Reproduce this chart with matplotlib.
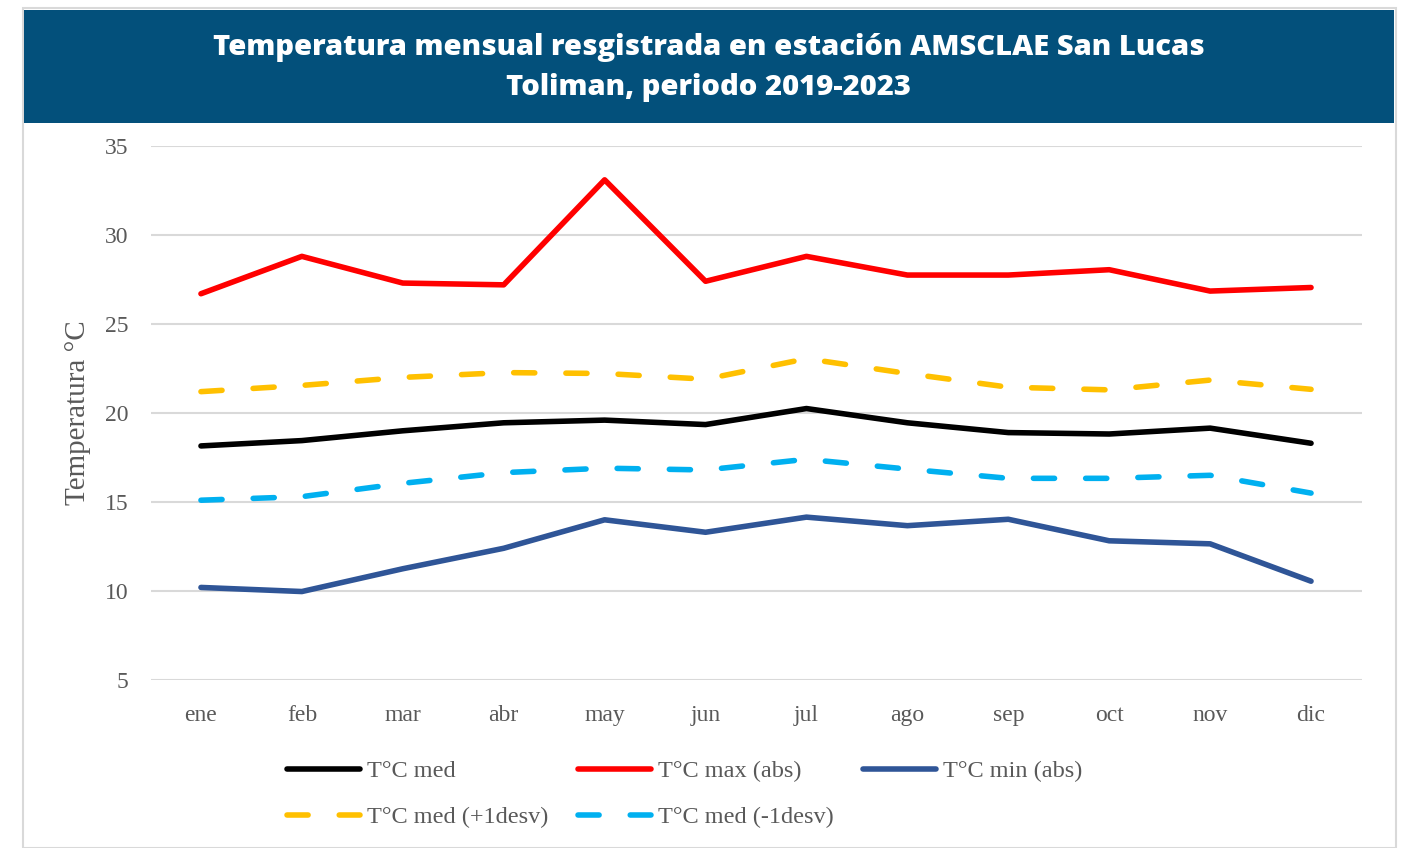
import matplotlib
matplotlib.use("Agg")
import matplotlib.pyplot as plt
from matplotlib.patches import Rectangle

# Data
meses = ["ene", "feb", "mar", "abr", "may", "jun", "jul", "ago", "sep", "oct", "nov", "dic"]
t_med = [18.15, 18.45, 19.0, 19.45, 19.6, 19.35, 20.25, 19.45, 18.9, 18.82, 19.15, 18.3]
t_max = [26.7, 28.8, 27.3, 27.2, 33.1, 27.4, 28.8, 27.75, 27.75, 28.05, 26.85, 27.05]
t_min = [10.2, 9.97, 11.25, 12.4, 14.0, 13.3, 14.15, 13.67, 14.03, 12.82, 12.65, 10.55]
t_mas1 = [21.2, 21.55, 22.0, 22.27, 22.22, 21.9, 23.05, 22.22, 21.45, 21.3, 21.85, 21.33]
t_menos1 = [15.1, 15.3, 16.05, 16.65, 16.9, 16.8, 17.4, 16.85, 16.33, 16.33, 16.5, 15.5]

W, H = 1405, 848
serif = ["Liberation Serif", "DejaVu Serif"]
gris = "#595959"

fig = plt.figure(figsize=(W / 100, H / 100), dpi=100)

# outer frame and title banner
fig.add_artist(Rectangle((23 / W, 0), (1396 - 23) / W, 1 - 8 / H, transform=fig.transFigure,
                         fill=False, edgecolor="#D9D9D9", linewidth=1.5))
fig.add_artist(Rectangle((24 / W, 1 - 123 / H), (1394 - 24) / W, (123 - 10) / H,
                         transform=fig.transFigure, facecolor="#03507B", edgecolor="none"))
titulo = ["Temperatura mensual resgistrada en estación AMSCLAE San Lucas",
          "Toliman, periodo 2019-2023"]
for i, linea in enumerate(titulo):
    fig.text(709 / W, 1 - (48 + 40 * i) / H, linea, ha="center", va="center",
             color="white", fontsize=21, fontweight=800, family="Open Sans")

ax = fig.add_axes([150.5 / W, 1 - 680 / H, 1211 / W, 534 / H])
x = range(len(meses))
lw = 4
dash = (3.8, 5.6)

l_med, = ax.plot(x, t_med, color="black", lw=lw, solid_capstyle="round", label="T°C med")
l_max, = ax.plot(x, t_max, color="#FF0000", lw=lw, solid_capstyle="round", label="T°C max (abs)")
l_min, = ax.plot(x, t_min, color="#2F5597", lw=lw, solid_capstyle="round", label="T°C min (abs)")
l_p1, = ax.plot(x, t_mas1, color="#FFC000", lw=lw, dashes=dash, dash_capstyle="round",
                label="T°C med (+1desv)")
l_m1, = ax.plot(x, t_menos1, color="#00B0F0", lw=lw, dashes=dash, dash_capstyle="round",
                label="T°C med (-1desv)")

ax.set_xlim(-0.5, 11.5)
ax.set_ylim(5, 35)
ax.set_yticks(range(5, 36, 5))
ax.set_xticks(list(x))
ax.set_xticklabels(meses)
ax.grid(axis="y", color="#D9D9D9", linewidth=1.5)
ax.set_axisbelow(True)
for s in ax.spines.values():
    s.set_visible(False)
ax.tick_params(length=0, labelsize=17, labelcolor=gris)
ax.tick_params(axis="y", pad=16)
ax.tick_params(axis="x", pad=18)
for lab in ax.get_xticklabels() + ax.get_yticklabels():
    lab.set_family(serif)

ax.set_ylabel("Temperatura °C", fontsize=21, color=gris, family=serif, labelpad=10)

# legend: column-major order so rows read med/max/min then +1/-1
handles = [l_med, l_p1, l_max, l_m1, l_min]
fig.legend(handles=handles, labels=[h.get_label() for h in handles], ncol=3,
           loc="upper left", bbox_to_anchor=(275 / W, 1 - 748 / H), frameon=False,
           borderpad=0, handlelength=3.0, handletextpad=0.3, columnspacing=1.2,
           labelspacing=1.0, prop={"family": serif, "size": 17.5}, labelcolor=gris)

fig.savefig("out.png", dpi=100)
